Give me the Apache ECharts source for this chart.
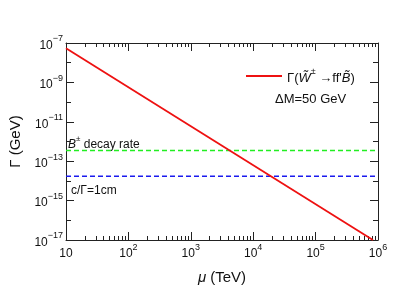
<!DOCTYPE html>
<html><head><meta charset="utf-8">
<script src="https://cdn.jsdelivr.net/npm/echarts@6/dist/echarts.min.js"></script>
<style>html,body{margin:0;padding:0;background:#fff}#c{width:415px;height:290px}</style>
</head><body><div id="c"></div>
<script>
// ---- data ----
const muRed = [10, 8.3e5];            // μ (TeV)
const gammaRed = [5.4e-8, 1e-17];     // Γ (GeV), slope ≈ μ^-2
const muFlat = [10, 1e6];
const gammaBdecay = [3.5e-13, 3.5e-13];
const gammaOneCm = [1.7e-14, 1.7e-14];
const xMajor = [10, 1e2, 1e3, 1e4, 1e5, 1e6];
const yLabeled = [1e-17, 1e-15, 1e-13, 1e-11, 1e-9, 1e-7];
const yUnlabeled = [1e-16, 1e-14, 1e-12, 1e-10, 1e-8];

const xMinor = [];
for (let d = 1; d < 6; d++) for (let k = 2; k <= 9; k++) xMinor.push(k * Math.pow(10, d));

const FONT = '"Liberation Sans", Arial, sans-serif';
const AX = '#222';
const sup = {
  b: {fontSize: 12, fontFamily: FONT, color: '#111', lineHeight: 17, verticalAlign: 'bottom'},
  s: {fontSize: 9, fontFamily: FONT, color: '#111', verticalAlign: 'top'}
};
function pow10Label(v) {
  const e = Math.round(Math.log10(v));
  if (e === 1) return '{b|10}';
  return '{b|10}{s|' + String(e).replace('-', '\u2212') + '}';
}

function xAx(pos, ticks, len, main) {
  return {
    type: 'log', min: 10, max: 1e6, position: pos, gridIndex: 0,
    axisLine: {show: main, lineStyle: {color: AX, width: 1}},
    axisTick: {show: true, inside: true, length: len, customValues: ticks, lineStyle: {color: AX, width: 1}},
    axisLabel: main && pos === 'bottom' ? {show: true, customValues: xMajor, formatter: pow10Label, rich: sup, margin: 3} : {show: false},
    splitLine: {show: false}, minorTick: {show: false},
    name: main && pos === 'bottom' ? '{i|\u03bc} (TeV)' : '',
    nameLocation: 'middle', nameGap: 30,
    nameTextStyle: {fontSize: 15, fontFamily: FONT, color: '#111',
      rich: {i: {fontSize: 15, fontFamily: FONT, fontStyle: 'italic', color: '#111'}}}
  };
}
function yAx(pos, ticks, len, main, labels) {
  return {
    type: 'log', min: 1e-17, max: 1e-7, position: pos, gridIndex: 0,
    axisLine: {show: main, lineStyle: {color: AX, width: 1}},
    axisTick: {show: true, inside: true, length: len, customValues: ticks, lineStyle: {color: AX, width: 1}},
    axisLabel: labels ? {show: true, customValues: yLabeled, formatter: pow10Label, rich: sup, margin: 3} : {show: false},
    splitLine: {show: false}, minorTick: {show: false},
    name: labels ? '\u0393 (GeV)' : '', nameLocation: 'middle', nameGap: 43,
    nameTextStyle: {fontSize: 15, fontFamily: FONT, color: '#111'}
  };
}

const chart = echarts.init(document.getElementById('c'), null, {renderer: 'canvas'});
chart.setOption({
  animation: false,
  backgroundColor: '#fff',
  grid: {left: 60, right: 37, top: 43, bottom: 49, containLabel: false},
  xAxis: [
    xAx('bottom', xMajor, 8, true),
    xAx('bottom', xMinor, 4, false),
    xAx('top', xMajor, 8, true),
    xAx('top', xMinor, 4, false)
  ],
  yAxis: [
    yAx('left', yLabeled, 8, true, true),
    yAx('left', yUnlabeled, 5, false, false),
    yAx('right', yLabeled, 8, true, false),
    yAx('right', yUnlabeled, 5, false, false)
  ],
  legend: {
    left: 241, top: 62, orient: 'vertical',
    itemWidth: 36, itemHeight: 10, itemGap: 4,
    data: [{name: 'red', icon: 'path://M0,4 L36,4 L36,6 L0,6 Z'}],
    formatter: function () {
      return '{n|\u0393(}{i|W\u0303}{s|\u00b1}{n| \u2192ff\'}{i|B\u0303}{n|)}';
    },
    textStyle: {
      fontFamily: FONT, fontSize: 13, color: '#111',
      rich: {
        n: {fontFamily: FONT, fontSize: 13, color: '#111', lineHeight: 18, verticalAlign: 'bottom'},
        i: {fontFamily: FONT, fontSize: 13, color: '#111', fontStyle: 'italic', lineHeight: 18, verticalAlign: 'bottom'},
        s: {fontFamily: FONT, fontSize: 9, color: '#111', verticalAlign: 'top'}
      }
    }
  },
  graphic: [
    {type: 'text', left: 275, top: 93, style: {text: '\u0394M=50 GeV', font: '13px ' + FONT, fill: '#111'}},
    {type: 'text', left: 68, top: 135, style: {
      text: '{i|B}{s|\u00b1}{n| decay rate}',
      rich: {
        i: {fontFamily: FONT, fontSize: 12, fontStyle: 'italic', fill: '#111', lineHeight: 16, verticalAlign: 'bottom'},
        s: {fontFamily: FONT, fontSize: 8, fill: '#111', verticalAlign: 'top'},
        n: {fontFamily: FONT, fontSize: 12, fill: '#111', lineHeight: 16, verticalAlign: 'bottom'}
      }}},
    {type: 'text', left: 71, top: 185, style: {text: 'c/\u0393=1cm', font: '12px ' + FONT, fill: '#111'}}
  ],
  series: [
    {name: 'bdecay', type: 'line', xAxisIndex: 0, yAxisIndex: 0, symbol: 'none',
      data: muFlat.map((m, i) => [m, gammaBdecay[i]]),
      lineStyle: {color: '#22ee22', width: 1.5, type: [5, 3]}},
    {name: 'cm', type: 'line', xAxisIndex: 0, yAxisIndex: 0, symbol: 'none',
      data: muFlat.map((m, i) => [m, gammaOneCm[i]]),
      lineStyle: {color: '#1a1aee', width: 1.5, type: [5, 3]}},
    {name: 'red', type: 'line', xAxisIndex: 0, yAxisIndex: 0, symbol: 'none', color: '#ee1111',
      data: muRed.map((m, i) => [m, gammaRed[i]]),
      lineStyle: {color: '#ee1111', width: 1.8}, clip: true}
  ]
});
</script></body></html>
